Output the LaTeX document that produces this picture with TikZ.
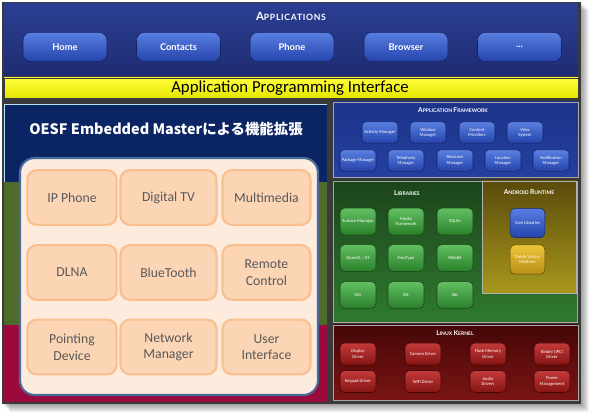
\documentclass[tikz,border=0pt]{standalone}
\usepackage{fontspec}
\setmainfont{Carlito}
\newfontfamily\jpfont{Noto Sans CJK JP}
\newfontfamily\latofont{Lato}
\definecolor{framegray}{HTML}{3A3A3A}
\definecolor{apptop}{HTML}{2B3E92}
\definecolor{appbot}{HTML}{1E2C72}
\definecolor{btntop}{HTML}{5A7FE2}
\definecolor{btnbot}{HTML}{2443AB}
\definecolor{btnline}{HTML}{14245E}
\definecolor{yeltop}{HTML}{FFFF3A}
\definecolor{yelbot}{HTML}{E6E600}
\definecolor{fwtop}{HTML}{1D3488}
\definecolor{fwbot}{HTML}{243FA0}
\definecolor{libtop}{HTML}{1B441B}
\definecolor{libbot}{HTML}{2F7A2F}
\definecolor{gbtntop}{HTML}{62C062}
\definecolor{gbtnbot}{HTML}{2A802A}
\definecolor{rttop}{HTML}{5A4A0C}
\definecolor{rtbot}{HTML}{A8981C}
\definecolor{ytop}{HTML}{EEC63A}
\definecolor{ybot}{HTML}{B88E18}
\definecolor{kertop}{HTML}{450707}
\definecolor{kerbot}{HTML}{7C1414}
\definecolor{rbtntop}{HTML}{C43A3A}
\definecolor{rbtnbot}{HTML}{861414}
\definecolor{leftnavy}{HTML}{0B2463}
\definecolor{leftgreen}{HTML}{4E6B2B}
\definecolor{leftred}{HTML}{9A0A3C}
\definecolor{peachbg}{HTML}{FDEBDD}
\definecolor{peachbox}{HTML}{FCD5B5}
\definecolor{peachline}{HTML}{F9BF8F}
\definecolor{panelline}{HTML}{4A6A9C}
\definecolor{boxtext}{HTML}{595959}
\begin{document}
\begin{tikzpicture}[x=0.75pt,y=-0.75pt,
  appbtn/.style={rounded corners=6pt, draw=btnline, top color=btntop, bottom color=btnbot, text=white,
    font=\latofont\bfseries\fontsize{7}{8}\selectfont, minimum width=63pt, minimum height=22pt, inner sep=0pt},
  fwbtn/.style={rounded corners=3pt, draw=btnline, top color=btntop, bottom color=btnbot, text=white,
    font=\fontsize{3.4}{3.9}\selectfont, minimum width=27pt, minimum height=16pt, inner sep=0pt, align=center},
  libbtn/.style={rounded corners=3.5pt, draw=libtop, top color=gbtntop, bottom color=gbtnbot, text=white,
    font=\fontsize{3.4}{3.9}\selectfont, minimum width=27pt, minimum height=20pt, inner sep=0pt, align=center},
  corebtn/.style={rounded corners=3.5pt, draw=btnline, top color=btntop, bottom color=btnbot, text=white,
    font=\fontsize{3.4}{3.9}\selectfont, minimum width=26pt, minimum height=22pt, inner sep=0pt, align=center},
  dvmbtn/.style={rounded corners=3.5pt, draw=rttop, top color=ytop, bottom color=ybot, text=white,
    font=\fontsize{3.4}{3.9}\selectfont, minimum width=26pt, minimum height=22pt, inner sep=0pt, align=center},
  kerbtn/.style={rounded corners=3.5pt, draw=kertop, top color=rbtntop, bottom color=rbtnbot, text=white,
    font=\fontsize{3.4}{3.9}\selectfont, minimum width=27pt, minimum height=16.5pt, inner sep=0pt, align=center},
  featbox/.style={rounded corners=7pt, draw=peachline, line width=1.6pt, fill=peachbox, text=boxtext,
    font=\fontsize{10.3}{12.5}\selectfont, minimum height=41pt, inner sep=0pt, align=center},
  paneltitle/.style={text=white, font=\latofont\bfseries, inner sep=0pt},
]
\useasboundingbox (0,0) rectangle (590,416);
\fill[white] (0,0) rectangle (590,416);
% soft shadow
\foreach \i in {1,...,8}{
  \fill[black, opacity=0.05] (2+\i,2+\i) rectangle (581+\i,404+\i);
}
\fill[framegray] (2,2) rectangle (581,404);
% Applications panel
\shade[top color=apptop, bottom color=appbot] (4,4) rectangle (578,76);
\node[paneltitle, font=\latofont\bfseries\addfontfeature{LetterSpace=8}] (apptitle) at (291,16)
  {{\fontsize{8.5}{9}\selectfont A}{\fontsize{6.5}{7}\selectfont PPLICATIONS}};
\node[appbtn] (home) at (65,47) {Home};
\node[appbtn] (contacts) at (178.5,47) {Contacts};
\node[appbtn] (phone) at (292,47) {Phone};
\node[appbtn] (browser) at (406,47) {Browser};
\node[appbtn] (more) at (519.5,47) {...};
% API bar
\shade[top color=yeltop, bottom color=yelbot, draw=framegray] (4,78) rectangle (578,98);
\node[inner sep=0pt, font=\fontsize{12.6}{13}\selectfont] (api) at (290,88) {Application Programming Interface};
% Left column
\fill[leftnavy] (4,104) rectangle (327,182);
\draw[white!70!cyan, line width=0.6pt] (4,104) -- (327,104);
\draw[white!70!cyan, line width=0.6pt] (4,104) -- (4,182);
\fill[leftgreen] (4,182) rectangle (327,325);
\fill[leftred] (4,325) rectangle (327,402);
\node[text=white, inner sep=0pt, font=\jpfont\bfseries\fontsize{10.8}{12}\selectfont] (oesf) at (166,129)
  {OESF Embedded Masterによる機能拡張};
\draw[line width=1.6pt, draw=panelline, fill=peachbg, rounded corners=11pt] (20,158) rectangle (318,395);
\node[featbox, minimum width=67pt] (ipphone) at (72,197.5) {IP Phone};
\node[featbox, minimum width=72pt] (digitaltv) at (168.5,197.5) {Digital TV};
\node[featbox, minimum width=66pt] (multimedia) at (266.5,197.5) {Multimedia};
\node[featbox, minimum width=67pt] (dlna) at (72,272.5) {DLNA};
\node[featbox, minimum width=72pt] (bluetooth) at (168.5,272.5) {BlueTooth};
\node[featbox, minimum width=66pt] (remote) at (266.5,272.5) {Remote\\Control};
\node[featbox, minimum width=67pt] (pointing) at (72,347) {Pointing\\Device};
\node[featbox, minimum width=72pt] (network) at (168.5,347) {Network\\Manager};
\node[featbox, minimum width=66pt] (userif) at (266.5,347) {User\\Interface};
% Application framework
\shade[top color=fwtop, bottom color=fwbot, draw=gray!70] (333,102) rectangle (578,177);
\node[paneltitle] (fwtitle) at (453,110)
  {{\fontsize{5}{5}\selectfont A}{\fontsize{3.8}{4}\selectfont PPLICATION }{\fontsize{5}{5}\selectfont F}{\fontsize{3.8}{4}\selectfont RAMEWORK}};
\node[fwbtn] (activity) at (380,132.5) {Activity Manager};
\node[fwbtn] (window) at (428,132.5) {Window\\Manager};
\node[fwbtn] (content) at (477,132.5) {Content\\Providers};
\node[fwbtn] (view) at (525,132.5) {View\\System};
\node[fwbtn] (package) at (358,160.5) {Package Manager};
\node[fwbtn] (telephony) at (406,160.5) {Telephony\\Manager};
\node[fwbtn] (resource) at (455,160.5) {Resource\\Manager};
\node[fwbtn] (location) at (503,160.5) {Location\\Manager};
\node[fwbtn] (notification) at (551,160.5) {Notification\\Manager};
% Libraries
\shade[top color=libtop, bottom color=libbot, draw=gray!70] (333,181) rectangle (577,322);
\node[paneltitle] (libtitle) at (407,193)
  {{\fontsize{5}{5}\selectfont L}{\fontsize{3.8}{4}\selectfont IBRARIES}};
\node[libbtn] (surface) at (358,221.5) {Surface Manager};
\node[libbtn] (media) at (406,221.5) {Media\\Framework};
\node[libbtn] (sqlite) at (455,221.5) {SQLite};
\node[libbtn] (opengl) at (358,258) {OpenGL | ES};
\node[libbtn] (freetype) at (406,258) {FreeType};
\node[libbtn] (webkit) at (455,258) {WebKit};
\node[libbtn] (sgl) at (358,295) {SGL};
\node[libbtn] (ssl) at (406,295) {SSL};
\node[libbtn] (libc) at (455,295) {libc};
% Android runtime
\shade[top color=rttop, bottom color=rtbot, draw=gray!60] (482,181) rectangle (576,293);
\node[paneltitle] (rttitle) at (529,192)
  {{\fontsize{5}{5}\selectfont A}{\fontsize{3.8}{4}\selectfont NDROID }{\fontsize{5}{5}\selectfont R}{\fontsize{3.8}{4}\selectfont UNTIME}};
\node[corebtn] (core) at (527.5,223) {Core Libraries};
\node[dvmbtn] (dalvik) at (527.5,259.5) {Dalvik Virtual\\Machine};
% Linux kernel
\shade[top color=kertop, bottom color=kerbot, draw=gray!70] (333,325) rectangle (578,400);
\node[paneltitle] (kertitle) at (455,333)
  {{\fontsize{5}{5}\selectfont L}{\fontsize{3.8}{4}\selectfont INUX }{\fontsize{5}{5}\selectfont K}{\fontsize{3.8}{4}\selectfont ERNEL}};
\node[kerbtn] (display) at (358,354) {Display\\Driver};
\node[kerbtn] (camera) at (423,354) {Camera Driver};
\node[kerbtn] (flash) at (488,354) {Flash Memory\\Driver};
\node[kerbtn] (binder) at (552,354) {Binder (IPC)\\Driver};
\node[kerbtn] (keypad) at (358,381.5) {Keypad Driver};
\node[kerbtn] (wifi) at (423,381.5) {WiFi Driver};
\node[kerbtn] (audio) at (488,381.5) {Audio\\Drivers};
\node[kerbtn] (power) at (552,381.5) {Power\\Management};
\end{tikzpicture}
\end{document}
